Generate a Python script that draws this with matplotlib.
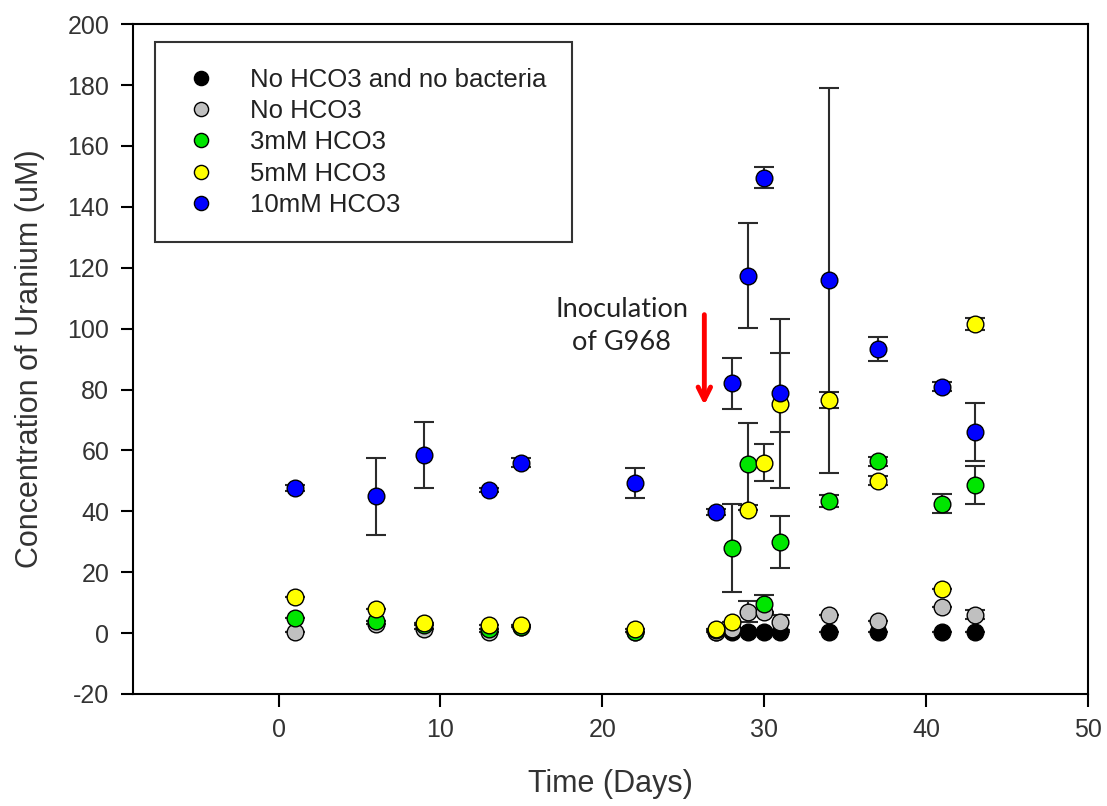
import matplotlib
matplotlib.use('Agg')
import matplotlib.pyplot as plt

plt.rcParams['font.family'] = ['Liberation Sans', 'DejaVu Sans']
plt.rcParams['axes.unicode_minus'] = False

# days sampled
days_ctrl = [27, 28, 29, 30, 31, 34, 37, 41, 43]
days = [1, 6, 9, 13, 15, 22, 27, 28, 29, 30, 31, 34, 37, 41, 43]

# No HCO3 and no bacteria
black_y = [0.5, 0.5, 0.5, 0.5, 0.5, 0.5, 0.5, 0.5, 0.5]
black_err = [0, 0, 0, 0, 0, 0, 0, 0, 0]

# No HCO3
gray_y = [0.4, 3.0, 1.5, 0.5, 2.0, 0.5, 0.5, 1.5, 7.0, 7.0, 3.5, 6.0, 4.0, 8.5, 6.0]
gray_err = [0, 0, 0, 0, 0, 0, 0, 0, 3.5, 0, 2.5, 0, 0, 0, 1.5]

# 3mM HCO3
green_y = [5.0, 4.0, 2.5, 1.5, 2.0, 0.5, 1.0, 27.9, 55.5, 9.5, 29.9, 43.5, 56.4, 42.5, 48.7]
green_err = [0, 0, 0, 0, 0, 0, 0, 14.5, 13.5, 3.0, 8.5, 2.0, 1.5, 3.2, 6.3]

# 5mM HCO3
yellow_y = [11.7, 7.9, 3.4, 2.6, 2.8, 1.5, 1.5, 3.7, 40.5, 56.0, 75.4, 76.6, 50.1, 14.5, 101.4]
yellow_err = [0, 0, 0, 0, 0, 0, 0, 0, 0, 6.0, 27.6, 2.6, 1.5, 0, 2.0]

# 10mM HCO3
blue_y = [47.6, 44.9, 58.5, 47.0, 55.9, 49.2, 39.7, 82.0, 117.4, 149.6, 79.0, 115.9, 93.4, 80.9, 66.0]
blue_err = [1.0, 12.7, 10.8, 0.5, 1.5, 4.9, 1.0, 8.5, 17.2, 3.5, 13.0, 63.2, 4.0, 1.5, 9.5]

series = [
    (days_ctrl, black_y, black_err, '#000000', 'No HCO3 and no bacteria'),
    (days, gray_y, gray_err, '#c0c0c0', 'No HCO3'),
    (days, green_y, green_err, '#00e600', '3mM HCO3'),
    (days, yellow_y, yellow_err, '#ffff00', '5mM HCO3'),
    (days, blue_y, blue_err, '#0000ff', '10mM HCO3'),
]

fig = plt.figure(figsize=(11.07, 8.06), dpi=100)
ax = fig.add_axes([0.1201, 0.139, 0.8627, 0.831])

for x, y, e, col, lab in series:
    ax.errorbar(x, y, yerr=e, fmt='none', ecolor='#2b2b2b', elinewidth=1.5,
                capsize=7, capthick=1.5, zorder=2)
    ax.plot(x, y, 'o', color=col, markeredgecolor='black', markeredgewidth=1,
            markersize=12, label=lab, zorder=3)

ax.set_xlim(-9, 50)
ax.set_ylim(-20, 200)
ax.set_xticks([0, 10, 20, 30, 40, 50])
ax.set_yticks(range(-20, 201, 20))
ax.tick_params(axis='both', direction='out', length=9, width=1.5,
               labelsize=18, labelcolor='#333333', pad=8)
ax.tick_params(top=False, right=False)
for s in ax.spines.values():
    s.set_linewidth(1.5)

ax.set_xlabel('Time (Days)', fontsize=22, color='#333333', labelpad=20)
ax.set_ylabel('Concentration of Uranium (uM)', fontsize=22, color='#333333', labelpad=16)

# inoculation marker
ax.annotate('', xy=(26.3, 74.0), xytext=(26.3, 105.5),
            arrowprops=dict(arrowstyle='->,head_width=0.45,head_length=0.9',
                            color='red', lw=3.5))
ax.text(21.2, 100.8, 'Inoculation\nof G968', ha='center', va='center',
        fontsize=19.5, family='Lato', color='#222222', linespacing=1.4)

leg = ax.legend(loc='upper left', bbox_to_anchor=(0.023, 0.973), borderaxespad=0,
                fontsize=18.5, frameon=True, fancybox=False, borderpad=1.0,
                labelspacing=0.28, handlelength=1.6, handletextpad=1.1,
                markerscale=0.85)
leg.get_frame().set_edgecolor('black')
leg.get_frame().set_linewidth(1.5)
for t in leg.get_texts():
    t.set_color('#222222')

fig.savefig('out.png', dpi=100)
